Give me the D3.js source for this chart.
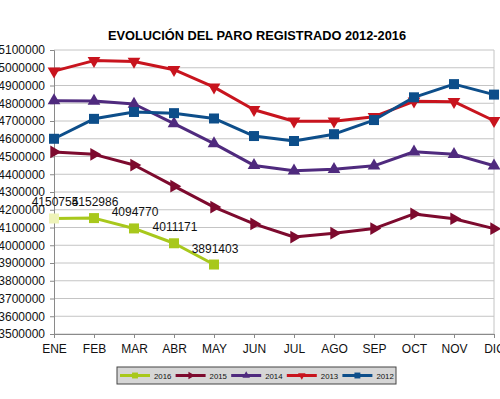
<!DOCTYPE html>
<html>
<head>
<meta charset="utf-8">
<script src="https://cdn.jsdelivr.net/npm/d3@7"></script>
<style>
  body { margin: 0; background: #fff; }
  svg { display: block; font-family: "Liberation Sans", Arial, sans-serif; }
</style>
</head>
<body>
<div class="container"></div>
<script>
const months = ['ENE', 'FEB', 'MAR', 'ABR', 'MAY', 'JUN', 'JUL', 'AGO', 'SEP', 'OCT', 'NOV', 'DIC'];
const years = ['2016', '2015', '2014', '2013', '2012'];

const paro2016 = [4150755, 4152986, 4094770, 4011171, 3891403];
const paro2015 = [4525691, 4512116, 4451939, 4333016, 4215031, 4120304, 4046276, 4067955, 4094042, 4176369, 4149298, 4093508];
const paro2014 = [4814435, 4812486, 4795866, 4684934, 4572385, 4449701, 4419860, 4427930, 4447650, 4526804, 4512153, 4447711];
const paro2013 = [4980778, 5040222, 5035243, 4989193, 4890928, 4763680, 4698814, 4699021, 4724355, 4811383, 4808908, 4701338];
const paro2012 = [4599829, 4712098, 4750867, 4744235, 4714122, 4615269, 4587455, 4625634, 4705279, 4833521, 4907817, 4848723];

const yTicks = d3.range(3500000, 5100001, 100000);

const w = 500;
const h = 399;

const margin = {
    top: 50,
    right: 6,
    bottom: 65,
    left: 54
}

const series = [
    { name: '2016', values: paro2016, color: '#a8c81c', firstFill: '#eef3b8', symbol: d3.symbolSquare, size: 100, rotate: 0, labels: true },
    { name: '2015', values: paro2015, color: '#7d0a2e', symbol: d3.symbolTriangle, size: 70, rotate: 90 },
    { name: '2014', values: paro2014, color: '#4f2a7e', symbol: d3.symbolTriangle, size: 70, rotate: 0 },
    { name: '2013', values: paro2013, color: '#c8141e', symbol: d3.symbolTriangle, size: 70, rotate: 180 },
    { name: '2012', values: paro2012, color: '#0d4e8a', symbol: d3.symbolSquare, size: 100, rotate: 0 }
];

const svg = d3.select('.container')
    .append('svg')
    .attr('width', w)
    .attr('height', h);

svg.append('text')
    .attr('x', 257)
    .attr('y', 40)
    .attr('text-anchor', 'middle')
    .style('font-size', '12.8px')
    .style('font-weight', 'bold')
    .text('EVOLUCIÓN DEL PARO REGISTRADO 2012-2016');

const x = d3.scalePoint()
    .domain(months)
    .range([margin.left, w - margin.right]);

const y = d3.scaleLinear()
    .domain([3500000, 5100000])
    .range([h - margin.bottom, margin.top]);

// grid lines
svg.append('g')
    .selectAll('line')
    .data(yTicks)
    .join('line')
    .attr('x1', margin.left)
    .attr('x2', w - margin.right)
    .attr('y1', d => y(d))
    .attr('y2', d => y(d))
    .attr('stroke', '#c4c4c4')
    .attr('stroke-width', 1);

svg.append('line')
    .attr('x1', w - margin.right)
    .attr('x2', w - margin.right)
    .attr('y1', margin.top)
    .attr('y2', h - margin.bottom)
    .attr('stroke', '#c4c4c4');

// axes
const yAxis = svg.append('g')
    .attr('transform', `translate(${margin.left},0)`)
    .call(d3.axisLeft(y).tickValues(yTicks).tickFormat(d3.format('d')).tickSizeOuter(0).tickSize(4).tickPadding(5));

const xAxis = svg.append('g')
    .attr('transform', `translate(0,${h - margin.bottom})`)
    .call(d3.axisBottom(x).tickSizeOuter(0).tickSize(4).tickPadding(6));

[xAxis, yAxis].forEach(ax => {
    ax.select('.domain').attr('stroke', '#8a8a8a');
    ax.selectAll('.tick line').attr('stroke', '#8a8a8a');
    ax.selectAll('.tick text')
        .attr('fill', '#111')
        .style('font-size', '12px')
        .style('font-family', '"Liberation Sans", Arial, sans-serif');
});

const line = d3.line()
    .x((d, i) => x(months[i]))
    .y(d => y(d));

// draw series, 2012 ends up on top
series.forEach(s => {
    const g = svg.append('g');
    g.append('path')
        .datum(s.values)
        .attr('fill', 'none')
        .attr('stroke', s.color)
        .attr('stroke-width', 3)
        .attr('stroke-linejoin', 'round')
        .attr('d', line);
    g.selectAll('path.marker')
        .data(s.values)
        .join('path')
        .attr('class', 'marker')
        .attr('fill', (d, i) => (i === 0 && s.firstFill) ? s.firstFill : s.color)
        .attr('transform', (d, i) => `translate(${x(months[i])},${y(d)}) rotate(${s.rotate})`)
        .attr('d', d3.symbol().type(s.symbol).size(s.size));
    if (s.labels) {
        g.selectAll('text')
            .data(s.values)
            .join('text')
            .attr('x', (d, i) => x(months[i]) + 1)
            .attr('y', d => y(d) - 12)
            .attr('text-anchor', 'middle')
            .style('font-size', '12px')
            .attr('fill', '#111')
            .text(d => d);
    }
});

// legend
const legend = svg.append('g')
    .attr('transform', 'translate(117,367)');

legend.append('rect')
    .attr('width', 279)
    .attr('height', 17)
    .attr('fill', '#d6d6d6')
    .attr('stroke', '#444')
    .attr('stroke-width', 1);

const item = legend.selectAll('g.item')
    .data(series)
    .join('g')
    .attr('class', 'item')
    .attr('transform', (d, i) => `translate(${3 + i * 55.6},8.5)`);

item.append('line')
    .attr('x1', 0)
    .attr('x2', 30)
    .attr('stroke', d => d.color)
    .attr('stroke-width', 3);

item.append('path')
    .attr('fill', d => d.color)
    .attr('transform', d => `translate(15,0) rotate(${d.rotate})`)
    .attr('d', d => d3.symbol().type(d.symbol).size(d.size * 0.35)());

item.append('text')
    .attr('x', 34)
    .attr('y', 3)
    .style('font-size', '7.8px')
    .attr('fill', '#111')
    .text(d => d.name);
</script>
</body>
</html>
